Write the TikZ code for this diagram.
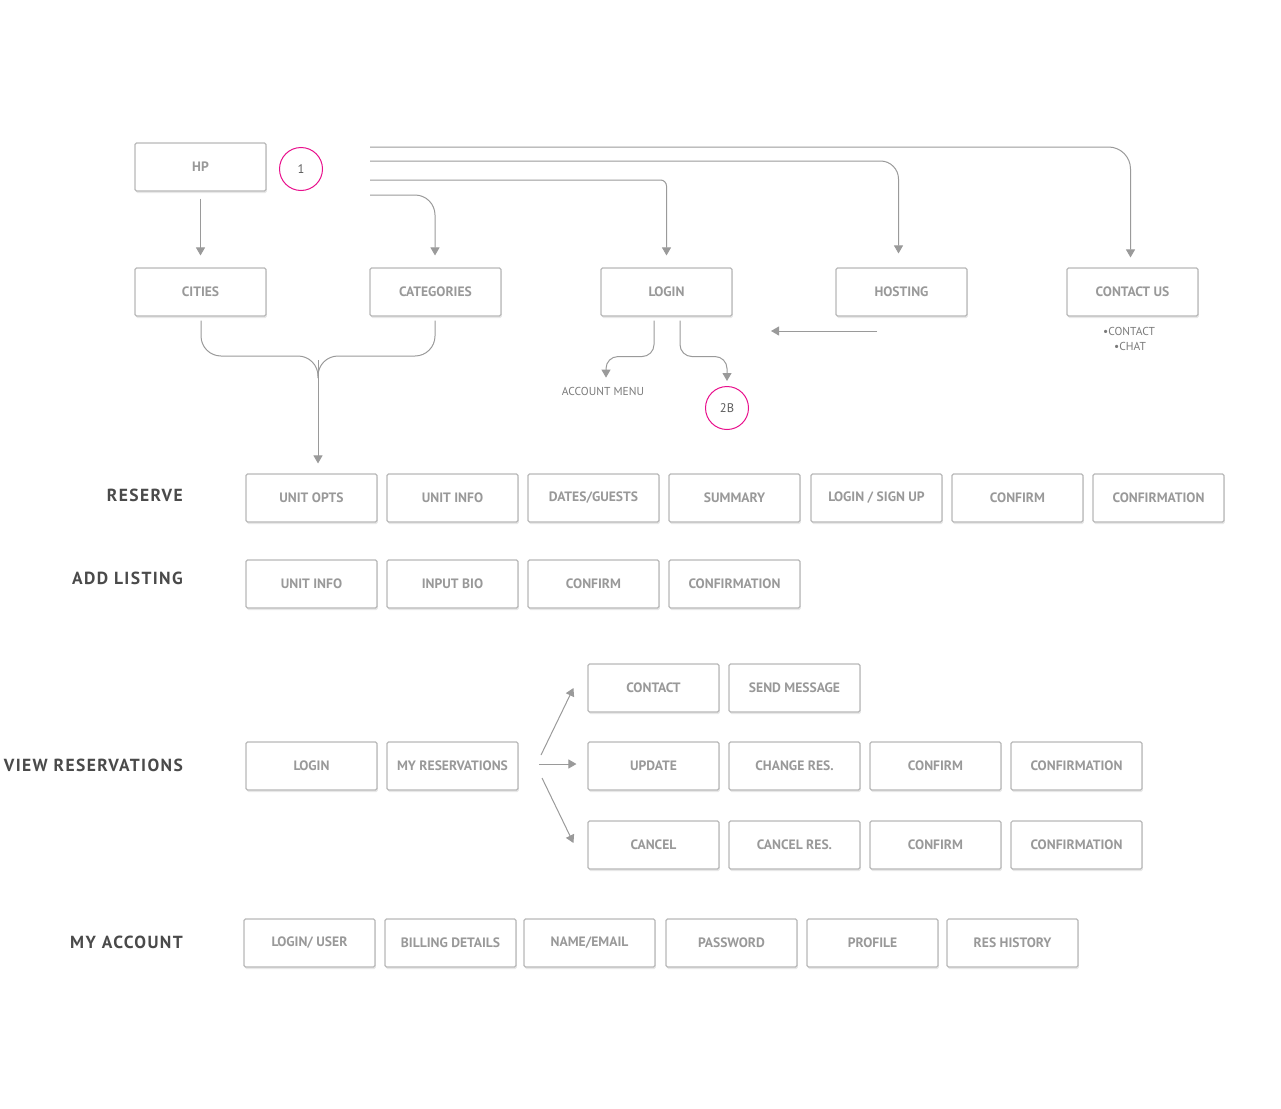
\documentclass[tikz,border=0pt]{standalone}
\usepackage{fontspec}
\setmainfont{PT Sans}
\usetikzlibrary{arrows.meta,shadows,calc}
\definecolor{boxline}{HTML}{B8B8B8}
\definecolor{boxtext}{HTML}{999999}
\definecolor{linec}{HTML}{9A9A9A}
\definecolor{lbl}{HTML}{4A4A4A}
\definecolor{pinkc}{HTML}{E8108C}
\begin{document}
\begin{tikzpicture}[x=1pt,y=-1pt,
  sbox/.style={draw=boxline,line width=1.1pt,rounded corners=1.5pt,fill=white,
    minimum width=131pt,minimum height=48pt,inner sep=0pt,
    font=\fontsize{13.6}{15}\selectfont\bfseries,text=boxtext,
    drop shadow={opacity=0.18,shadow xshift=0.8pt,shadow yshift=-2pt}},
  rowlbl/.style={anchor=east,font=\fontsize{17.5}{19}\selectfont\bfseries\addfontfeatures{LetterSpace=8},text=lbl,inner sep=0pt},
  ring/.style={circle,draw=pinkc,line width=1pt,minimum size=43pt,inner sep=0pt,font=\fontsize{12.5}{14}\selectfont,text=lbl!90},
  small/.style={font=\fontsize{11.5}{13}\selectfont,text=boxtext!80!black,inner sep=0pt},
  conn/.style={draw=linec,line width=1pt},
  arr/.style={conn,-{Triangle[width=9pt,length=8pt]},fill=none},
]
\useasboundingbox (0,0) rectangle (1281,1108);
% top level
\node[sbox] (hp) at (200.5,167) {HP};
\node[ring] (one) at (301,169) {1};
\node[sbox] (cities) at (200.5,292) {CITIES};
\node[sbox] (categories) at (435.5,292) {CATEGORIES};
\node[sbox] (login) at (666.5,292) {LOGIN};
\node[sbox] (hosting) at (901.5,292) {HOSTING};
\node[sbox] (contactus) at (1132.5,292) {CONTACT US};
\node[small] (cu1) at (1129,331) {•CONTACT};
\node[small] (cu2) at (1130,346) {•CHAT};
\node[small] (accmenu) at (603,391) {ACCOUNT MENU};
\node[ring] (twob) at (727,408) {2B};
% free ends
\coordinate (s1) at (370,147);
\coordinate (s2) at (370,161);
\coordinate (s3) at (370,180);
\coordinate (s4) at (370,195);
\coordinate (hosttail) at (877,331);
\coordinate (hosthead) at (771,331);
\coordinate (brace) at (318,360);
% connectors from top
\draw[arr,rounded corners=22pt] (s1) -| ($(contactus.north)+(-2,-10)$);
\draw[arr,rounded corners=18pt] (s2) -| ($(hosting.north)+(-3,-14)$);
\draw[arr,rounded corners=6pt] (s3) -| ($(login.north)+(0,-12)$);
\draw[arr,rounded corners=20pt] (s4) -| ($(categories.north)+(-0.5,-12)$);
\draw[arr] ($(hp.south)+(0,7)$) -- ($(cities.north)+(0,-12)$);
\draw[arr] (hosttail) -- (hosthead);
% login branches
\draw[arr,rounded corners=12pt] ($(login.south)+(-12.5,4)$) -- ++(0,36) -| ($(accmenu.north)+(3,-9)$);
\draw[arr,rounded corners=12pt] ($(login.south)+(13.5,4)$) -- ++(0,36) -| ($(twob.north)+(0,-5)$);
% brace
\draw[conn,rounded corners=20pt] ($(cities.south)+(0.5,4)$) |- (318,356) -- (318,378);
\draw[conn,rounded corners=20pt] ($(categories.south)+(-0.5,4)$) |- (318,356) -- (318,378);

% RESERVE row
\node[rowlbl] (lres) at (183,495) {RESERVE};
\node[sbox] (r1) at (311.5,498) {UNIT OPTS};
\node[sbox] (r2) at (452.5,498) {UNIT INFO};
\node[sbox] (r3) at (593.5,498) {DATES/GUESTS};
\node[sbox] (r4) at (734.5,498) {SUMMARY};
\node[sbox] (r5) at (876.5,498) {LOGIN / SIGN UP};
\node[sbox] (r6) at (1017.5,498) {CONFIRM};
\node[sbox] (r7) at (1158.5,498) {CONFIRMATION};
\draw[arr] (brace) -- ($(r1.north)+(6.5,-10)$);

% ADD LISTING
\node[rowlbl] (ladd) at (183,578) {ADD LISTING};
\node[sbox] (a1) at (311.5,584) {UNIT INFO};
\node[sbox] (a2) at (452.5,584) {INPUT BIO};
\node[sbox] (a3) at (593.5,584) {CONFIRM};
\node[sbox] (a4) at (734.5,584) {CONFIRMATION};

% VIEW RESERVATIONS
\node[rowlbl] (lview) at (183,765) {VIEW RESERVATIONS};
\node[sbox] (v1) at (311.5,766) {LOGIN};
\node[sbox] (v2) at (452.5,766) {MY RESERVATIONS};
\node[sbox] (c1) at (653.5,688) {CONTACT};
\node[sbox] (c2) at (794.5,688) {SEND MESSAGE};
\node[sbox] (u1) at (653.5,766) {UPDATE};
\node[sbox] (u2) at (794.5,766) {CHANGE RES.};
\node[sbox] (u3) at (935.5,766) {CONFIRM};
\node[sbox] (u4) at (1076.5,766) {CONFIRMATION};
\node[sbox] (k1) at (653.5,845) {CANCEL};
\node[sbox] (k2) at (794.5,845) {CANCEL RES.};
\node[sbox] (k3) at (935.5,845) {CONFIRM};
\node[sbox] (k4) at (1076.5,845) {CONFIRMATION};
\coordinate (f1) at (541,755);
\coordinate (f2) at (539,764);
\coordinate (f3) at (542,778);
\draw[arr] (f1) -- ($(c1.west)+(-14,0)$);
\draw[arr] (f2) -- ($(u1.west)+(-11,-2)$);
\draw[arr] (f3) -- ($(k1.west)+(-14,-2)$);

% MY ACCOUNT
\node[rowlbl] (lacc) at (183,942) {MY ACCOUNT};
\node[sbox] (m1) at (309.5,943) {LOGIN/ USER};
\node[sbox] (m2) at (450.5,943) {BILLING DETAILS};
\node[sbox] (m3) at (589.5,943) {NAME/EMAIL};
\node[sbox] (m4) at (731.5,943) {PASSWORD};
\node[sbox] (m5) at (872.5,943) {PROFILE};
\node[sbox] (m6) at (1012.5,943) {RES HISTORY};
\end{tikzpicture}
\end{document}
